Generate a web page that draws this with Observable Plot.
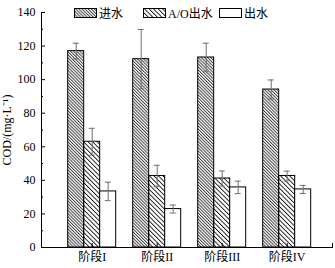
<!DOCTYPE html>
<html><head><meta charset="utf-8">
<script src="https://cdn.jsdelivr.net/npm/d3@7"></script>
<script src="https://cdn.jsdelivr.net/npm/@observablehq/plot@0.6"></script>
<style>
body{margin:0;background:#fff;}
#wrap{position:relative;width:335px;height:268px;}
.item{position:absolute;top:7px;height:12px;display:flex;align-items:center;font-family:"Liberation Serif","Noto Sans CJK SC",serif;font-size:12px;color:#000;white-space:nowrap;}
.item svg{margin-right:2px;display:block;}
</style></head><body>
<svg width="0" height="0" style="position:absolute">
<defs>
<pattern id="h1" patternUnits="userSpaceOnUse" width="2.2" height="10" patternTransform="rotate(-45)"><rect x="0" y="0" width="1" height="10" fill="#444"/></pattern>
<pattern id="h2" patternUnits="userSpaceOnUse" width="3.2" height="10" patternTransform="rotate(-45)"><rect x="0" y="0" width="0.9" height="10" fill="#111"/></pattern>
</defs>
</svg>
<div id="wrap"></div>
<script>
const groups = ["阶段I", "阶段II", "阶段III", "阶段IV"];
const series = ["进水", "A/O出水", "出水"];
const influent = [117.0, 112.2, 113.2, 94.1];
const influentSd = [4.7, 17.7, 8.5, 5.7];
const aoEffluent = [63.0, 42.6, 41.1, 42.6];
const aoEffluentSd = [8.0, 6.4, 4.5, 2.9];
const effluent = [33.4, 22.9, 35.8, 34.6];
const effluentSd = [5.5, 2.4, 3.7, 2.4];
const yTicks = [0, 20, 40, 60, 80, 100, 120, 140];
const yMinorTicks = [10, 30, 50, 70, 90, 110, 130];

const values = [influent, aoEffluent, effluent];
const sds = [influentSd, aoEffluentSd, effluentSd];
const fills = ["url(#h1)", "url(#h2)", "white"];

const rows = groups.flatMap((g, i) => series.map((s, j) => ({
  group: g, series: s, k: j, value: values[j][i], sd: sds[j][i],
  lo: values[j][i] - sds[j][i], hi: values[j][i] + sds[j][i]
})));

const bw = 48, sub = bw / 3, cap = 3;
const marks = [];
series.forEach((s, j) => {
  marks.push(Plot.barY(rows.filter(r => r.k === j), {
    x: "group", y: "value", fill: fills[j], stroke: "black", strokeWidth: 1,
    insetLeft: j * sub, insetRight: (2 - j) * sub
  }));
});
series.forEach((s, j) => {
  const d = rows.filter(r => r.k === j);
  const c = (j - 1) * sub;
  marks.push(Plot.ruleX(d, {x: "group", y1: "lo", y2: "hi", dx: c, stroke: "#6e6e6e", strokeWidth: 1}));
  marks.push(Plot.tickY(d, {x: "group", y: "lo", stroke: "#6e6e6e", insetLeft: bw / 2 + c - cap, insetRight: bw / 2 - c - cap}));
  marks.push(Plot.tickY(d, {x: "group", y: "hi", stroke: "#6e6e6e", insetLeft: bw / 2 + c - cap, insetRight: bw / 2 - c - cap}));
});

const plot = Plot.plot({
  width: 335, height: 268,
  marginLeft: 41, marginRight: 3, marginTop: 12, marginBottom: 21,
  style: {fontFamily: "'Liberation Serif','Noto Sans CJK SC',serif", fontSize: "12px", color: "#000", background: "#fff"},
  x: {domain: groups, paddingInner: 17 / 65, paddingOuter: 0.36923, align: 0.556, round: false},
  y: {domain: [0, 140]},
  marks: [
    ...marks,
    Plot.frame({anchor: "left", stroke: "black"}),
    Plot.frame({anchor: "bottom", stroke: "black"}),
    Plot.frame({anchor: "right", stroke: "black", insetTop: 231}),
    Plot.axisY({ticks: yTicks, tickSize: 0, tickPadding: 6, label: "COD/(mg·L⁻¹)", labelAnchor: "center", labelArrow: "none", labelOffset: 39, fontSize: 12}),
    Plot.axisY({ticks: yTicks, tickSize: -4, text: null, label: null}),
    Plot.axisY({ticks: yMinorTicks, tickSize: -2, text: null, label: null}),
    Plot.axisX({tickSize: 0, tickPadding: 5, label: null, fontSize: 12}),
    Plot.axisX({tickSize: -4, text: null, label: null})
  ]
});

const wrap = document.getElementById("wrap");
wrap.appendChild(plot);

const legendLeft = [74, 143, 219];
series.forEach((s, j) => {
  const item = document.createElement("div");
  item.className = "item";
  item.style.left = legendLeft[j] + "px";
  item.innerHTML = `<svg width="23" height="10"><rect x="0.5" y="0.5" width="22" height="9" fill="${fills[j]}" stroke="black" stroke-width="1"/></svg><span>${s}</span>`;
  wrap.appendChild(item);
});
</script>
</body></html>
